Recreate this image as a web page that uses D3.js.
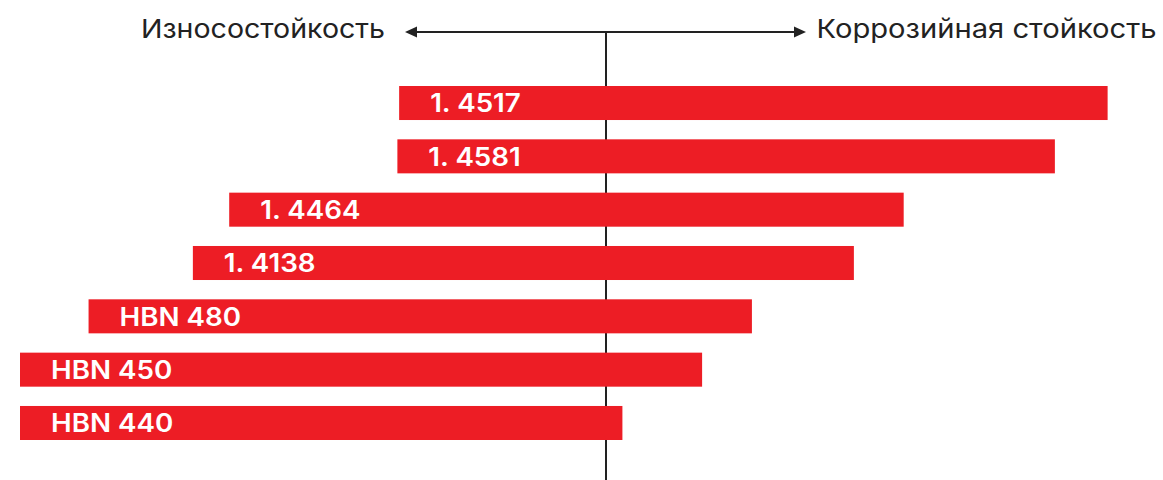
<!DOCTYPE html>
<html>
<head>
<meta charset="utf-8">
<script src="https://cdn.jsdelivr.net/npm/d3@7"></script>
<style>
  html, body { margin: 0; padding: 0; background: #fff; }
  svg { display: block; }
</style>
</head>
<body>
<svg id="chart" width="1163" height="480"></svg>
<script>
// ---- data ----
const categories = ["1. 4517", "1. 4581", "1. 4464", "1. 4138", "HBN 480", "HBN 450", "HBN 440"];
const wearResistance = [35.3, 35.6, 64.3, 70.5, 88.3, 100, 100];      // extends left
const corrosionResistance = [85.6, 76.6, 50.8, 42.3, 24.9, 16.4, 2.8]; // extends right
const leftTitle = "Износостойкость";
const rightTitle = "Коррозийная стойкость";

// ---- layout ----
const W = 1163, H = 480;
const svg = d3.select("#chart");
const red = "#ED1D25";
const ink = "#222222";

const x = d3.scaleLinear().domain([-100, 100]).range([20, 1192]);
const y = d3.scaleBand().domain(categories).range([86, 440]).paddingInner(0.362).paddingOuter(0);

const cx = x(0);
const topY = 32;

// vertical axis line (behind bars)
svg.append("line")
  .attr("x1", cx).attr("x2", cx)
  .attr("y1", topY).attr("y2", H)
  .attr("stroke", ink).attr("stroke-width", 2);

// horizontal double arrow
const arrowL = 405, arrowR = 806;
svg.append("line")
  .attr("x1", arrowL + 6).attr("x2", arrowR - 6)
  .attr("y1", topY).attr("y2", topY)
  .attr("stroke", ink).attr("stroke-width", 2);
svg.append("path")
  .attr("d", `M${arrowL},${topY} L${arrowL + 12},${topY - 5.5} L${arrowL + 12},${topY + 5.5} Z`)
  .attr("fill", ink);
svg.append("path")
  .attr("d", `M${arrowR},${topY} L${arrowR - 12},${topY - 5.5} L${arrowR - 12},${topY + 5.5} Z`)
  .attr("fill", ink);

// titles
function fit(sel, w) {
  sel.each(function() {
    const len = this.getComputedTextLength();
    if (len > 0) d3.select(this).attr("textLength", w).attr("lengthAdjust", "spacingAndGlyphs");
  });
}
svg.append("text")
  .attr("x", 385).attr("y", 37.5)
  .attr("text-anchor", "end")
  .attr("font-family", "Inter, 'Noto Sans', sans-serif")
  .attr("font-size", 26)
  .attr("fill", ink)
  .text(leftTitle)
  .call(fit, 244);
svg.append("text")
  .attr("x", 816.5).attr("y", 37.5)
  .attr("text-anchor", "start")
  .attr("font-family", "Inter, 'Noto Sans', sans-serif")
  .attr("font-size", 26)
  .attr("fill", ink)
  .text(rightTitle)
  .call(fit, 340);

// bars
const rows = categories.map((c, i) => ({ c, l: wearResistance[i], r: corrosionResistance[i] }));
svg.selectAll("rect.bar").data(rows).join("rect")
  .attr("class", "bar")
  .attr("x", d => x(-d.l))
  .attr("y", d => y(d.c))
  .attr("width", d => x(d.r) - x(-d.l))
  .attr("height", y.bandwidth())
  .attr("fill", red);

// labels
const labels = svg.selectAll("text.lbl").data(rows).join("text")
  .attr("class", "lbl")
  .attr("x", d => x(-d.l) + 31)
  .attr("y", d => y(d.c) + y.bandwidth() / 2 + 9.3)
  .attr("font-family", "Inter, 'Noto Sans', sans-serif")
  .attr("font-weight", 600)
  .attr("font-size", 25)
  .attr("fill", "#ffffff")
  .text(d => d.c);
labels.each(function() {
  const len = this.getComputedTextLength();
  d3.select(this).attr("textLength", len * 1.11).attr("lengthAdjust", "spacingAndGlyphs");
});
</script>
</body>
</html>
